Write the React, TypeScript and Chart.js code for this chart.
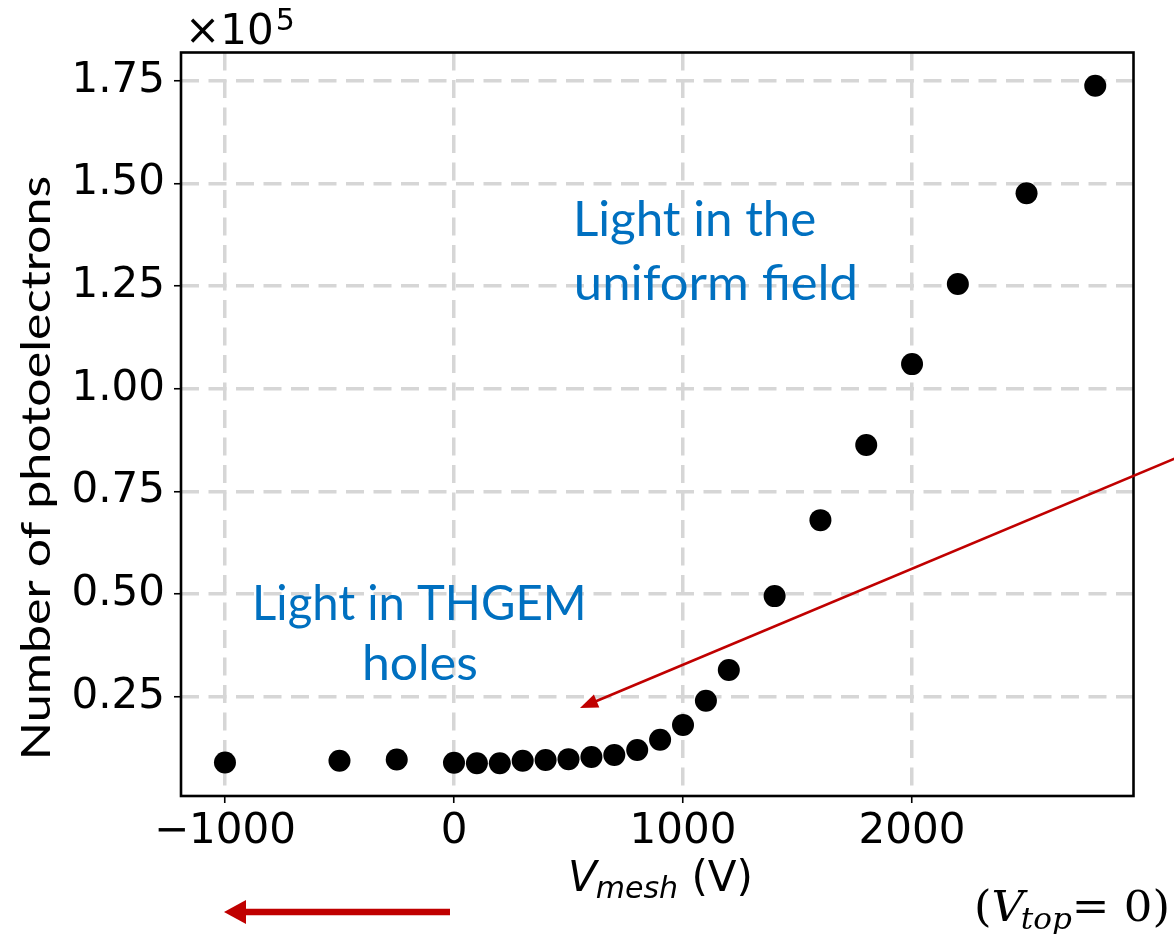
import { useEffect, useRef } from "react";
import { Chart, registerables } from "chart.js";

Chart.register(...registerables);

// ---- data ----
const vMesh = [-1000, -500, -250, 0, 100, 200, 300, 400, 500, 600, 700, 800, 900, 1000, 1100, 1200, 1400, 1600, 1800, 2000, 2200, 2500, 2800];
const photoelectrons = [9000, 9400, 9700, 8900, 8800, 8800, 9400, 9600, 9800, 10300, 10800, 12000, 14500, 18100, 24000, 31500, 49500, 68000, 86300, 106000, 125500, 147600, 173800];
const xTickValues = [-1000, 0, 1000, 2000];
const yTickValues = [25000, 50000, 75000, 100000, 125000, 150000, 175000];
const xLimits = [-1192, 2967];
const yLimits = [820, 181890];
const yScaleFactor = 1e5;

const labelUniform = ["Light in the", "uniform field"];
const labelThgem = ["Light in THGEM", "holes"];
const yTitle = "Number of photoelectrons";

const BLUE = "#0070C0";
const RED = "#C00000";
const SANS = "'DejaVu Sans'";
const HUMANIST = "Lato";
const SERIF = "'DejaVu Serif'";

function fitText(
  ctx: CanvasRenderingContext2D,
  text: string,
  x: number,
  y: number,
  font: string,
  targetWidth: number,
  align: "left" | "center"
) {
  ctx.save();
  ctx.font = font;
  ctx.textAlign = "left";
  ctx.textBaseline = "alphabetic";
  const m = ctx.measureText(text);
  const ink = m.actualBoundingBoxLeft + m.actualBoundingBoxRight;
  const s = targetWidth / ink;
  ctx.translate(x, y);
  ctx.scale(s, 1);
  const ox = align === "left" ? m.actualBoundingBoxLeft : m.actualBoundingBoxLeft - ink / 2;
  ctx.fillText(text, ox, 0);
  ctx.restore();
}

function drawArrow(
  ctx: CanvasRenderingContext2D,
  x1: number,
  y1: number,
  x2: number,
  y2: number,
  lw: number,
  headLen: number,
  headHalf: number,
  color: string
) {
  const ang = Math.atan2(y2 - y1, x2 - x1);
  const bx = x2 - Math.cos(ang) * headLen;
  const by = y2 - Math.sin(ang) * headLen;
  ctx.save();
  ctx.strokeStyle = color;
  ctx.fillStyle = color;
  ctx.lineWidth = lw;
  ctx.beginPath();
  ctx.moveTo(x1, y1);
  ctx.lineTo(bx + Math.cos(ang) * 2, by + Math.sin(ang) * 2);
  ctx.stroke();
  const nx = -Math.sin(ang);
  const ny = Math.cos(ang);
  ctx.beginPath();
  ctx.moveTo(x2, y2);
  ctx.lineTo(bx + nx * headHalf, by + ny * headHalf);
  ctx.lineTo(bx - nx * headHalf, by - ny * headHalf);
  ctx.closePath();
  ctx.fill();
  ctx.restore();
}

const decorPlugin = {
  id: "decor",
  afterDraw(chart: any) {
    const ctx: CanvasRenderingContext2D = chart.ctx;
    const a = chart.chartArea;

    // frame
    ctx.save();
    ctx.strokeStyle = "#000";
    ctx.lineWidth = 2.6;
    ctx.strokeRect(a.left, a.top, a.right - a.left, a.bottom - a.top);
    ctx.restore();

    // offset text ×10^5
    ctx.save();
    ctx.fillStyle = "#000";
    ctx.textBaseline = "alphabetic";
    ctx.textAlign = "left";
    ctx.font = `42px ${SANS}`;
    const base = "×10";
    ctx.fillText(base, 185, 44);
    const w = ctx.measureText(base).width;
    ctx.font = `30px ${SANS}`;
    ctx.fillText("5", 185 + w + 2, 30);
    ctx.restore();

    // x-axis title V_mesh (V)
    ctx.save();
    ctx.fillStyle = "#000";
    ctx.textBaseline = "alphabetic";
    ctx.textAlign = "left";
    let x = 568;
    const yb = 891;
    ctx.font = `italic 42px ${SANS}`;
    ctx.fillText("V", x, yb);
    x += ctx.measureText("V").width - 1;
    ctx.font = `italic 30px ${SANS}`;
    ctx.fillText("mesh", x, yb + 7);
    x += ctx.measureText("mesh").width;
    ctx.font = `42px ${SANS}`;
    ctx.fillText(" (V)", x, yb);
    ctx.restore();

    // y-axis title
    ctx.save();
    ctx.fillStyle = "#000";
    ctx.translate(50, 467);
    ctx.rotate(-Math.PI / 2);
    fitText(ctx, yTitle, 0, 0, `40px ${HUMANIST}`, 579, "center");
    ctx.restore();

    // blue annotations
    ctx.save();
    ctx.fillStyle = BLUE;
    fitText(ctx, labelUniform[0], 577, 236, `48px ${HUMANIST}`, 238, "left");
    fitText(ctx, labelUniform[1], 577, 300, `48px ${HUMANIST}`, 278, "left");
    fitText(ctx, labelThgem[0], 419.5, 620, `48px ${HUMANIST}`, 327, "center");
    fitText(ctx, labelThgem[1], 420.5, 680, `48px ${HUMANIST}`, 111, "center");
    ctx.restore();

    // arrows
    drawArrow(ctx, 1176, 458, 580, 708, 2.6, 18, 7, RED);
    drawArrow(ctx, 450, 912, 224, 912, 6.5, 22, 12, RED);

    // (V_top = 0), stretched to the reference width
    ctx.save();
    ctx.fillStyle = "#000";
    ctx.textBaseline = "alphabetic";
    ctx.textAlign = "left";
    const parts: [string, string, number][] = [
      ["(", `42px ${SERIF}`, 0],
      ["V", `italic 42px ${SERIF}`, 0],
      ["top", `italic 29px ${SERIF}`, 8],
      ["= 0)", `42px ${SERIF}`, 0],
    ];
    let natural = 0;
    const widths: number[] = [];
    parts.forEach(([t, f], i) => {
      ctx.font = f;
      let wi = ctx.measureText(t).width;
      if (i === 1) wi -= 3;
      widths.push(wi);
      natural += wi;
    });
    const sx = 196 / natural;
    ctx.translate(974, 921);
    ctx.scale(sx, 1);
    let tx = 0;
    parts.forEach(([t, f, dy], i) => {
      ctx.font = f;
      ctx.fillText(t, tx, dy);
      tx += widths[i];
    });
    ctx.restore();
  },
};

export default function App() {
  const ref = useRef<HTMLCanvasElement | null>(null);

  useEffect(() => {
    document.body.style.margin = "0";
    const canvas = ref.current;
    if (!canvas) return;
    const chart = new Chart(canvas, {
      type: "scatter",
      data: {
        datasets: [
          {
            data: vMesh.map((v, i) => ({ x: v, y: photoelectrons[i] })),
            backgroundColor: "#000",
            borderColor: "#000",
            borderWidth: 0,
            pointRadius: 11,
            pointHoverRadius: 11,
            showLine: false,
          },
        ],
      },
      options: {
        animation: false,
        responsive: false,
        devicePixelRatio: 1,
        events: [],
        layout: { padding: { left: 0, top: 52.5, right: 40.5, bottom: 0 } },
        plugins: { legend: { display: false }, tooltip: { enabled: false }, title: { display: false } },
        scales: {
          x: {
            type: "linear",
            min: xLimits[0],
            max: xLimits[1],
            afterBuildTicks: (scale: any) => {
              scale.ticks = xTickValues.map((v) => ({ value: v }));
            },
            afterFit: (scale: any) => {
              scale.height = 934 - 796;
            },
            ticks: {
              autoSkip: false,
              maxRotation: 0,
              minRotation: 0,
              padding: 4,
              color: "#000",
              font: { family: "DejaVu Sans", size: 42 },
              callback: (v: any) => (Number(v) < 0 ? "\u2212" + Math.abs(Number(v)) : String(v)),
            },
            grid: {
              color: "#d6d6d6",
              lineWidth: 3.5,
              drawTicks: true,
              tickLength: 7,
              tickWidth: 1.6,
              tickColor: "#000",
              tickBorderDash: [],
            },
            border: { display: false, dash: [18, 9.5] },
          },
          y: {
            type: "linear",
            min: yLimits[0],
            max: yLimits[1],
            afterBuildTicks: (scale: any) => {
              scale.ticks = yTickValues.map((v) => ({ value: v }));
            },
            afterFit: (scale: any) => {
              scale.width = 181;
            },
            ticks: {
              autoSkip: false,
              padding: 9,
              color: "#000",
              font: { family: "DejaVu Sans", size: 42 },
              callback: (v: any) => (Number(v) / yScaleFactor).toFixed(2),
            },
            grid: {
              color: "#d6d6d6",
              lineWidth: 3.5,
              drawTicks: true,
              tickLength: 7,
              tickWidth: 1.6,
              tickColor: "#000",
              tickBorderDash: [],
            },
            border: { display: false, dash: [18, 9.5] },
          },
        },
      },
      plugins: [decorPlugin],
    });
    return () => chart.destroy();
  }, []);

  return (
    <div style={{ position: "absolute", left: 0, top: 0, width: 1174, height: 934, background: "#fff" }}>
      <canvas ref={ref} width={1174} height={934} style={{ display: "block", width: 1174, height: 934 }} />
    </div>
  );
}
